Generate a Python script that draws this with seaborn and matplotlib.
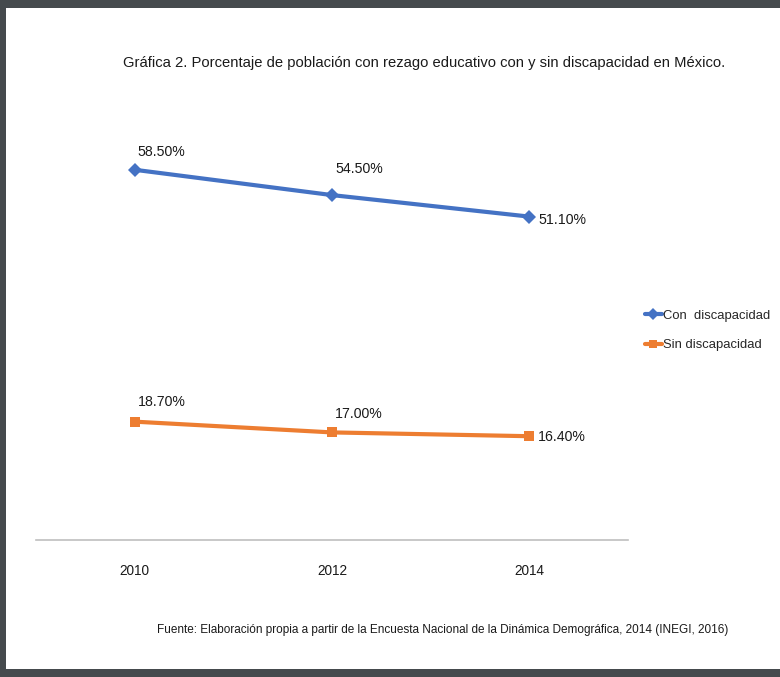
import matplotlib
matplotlib.use("Agg")
import matplotlib.pyplot as plt
import seaborn as sns
import pandas as pd
from matplotlib.patches import Rectangle
from matplotlib.lines import Line2D

years = ["2010", "2012", "2014"]
con_discapacidad = [58.5, 54.5, 51.1]
sin_discapacidad = [18.7, 17.0, 16.4]
series_names = ["Con  discapacidad", "Sin discapacidad"]
colors = ["#4472C4", "#ED7D31"]

df = pd.DataFrame({
    "year": years * 2,
    "value": con_discapacidad + sin_discapacidad,
    "serie": [series_names[0]] * 3 + [series_names[1]] * 3,
})

sns.set_theme(style="white")
plt.rcParams["font.family"] = ["Liberation Sans", "DejaVu Sans"]

W, H = 780, 677
fig = plt.figure(figsize=(W / 100, H / 100), dpi=100)
fig.patch.set_facecolor("#454a4d")
fig.patches.append(Rectangle((6 / W, (H - 669) / H), (W - 6) / W, (669 - 8) / H,
                             transform=fig.transFigure, facecolor="white",
                             edgecolor="none", zorder=-5))

ax = fig.add_axes([36 / W, (H - 540) / H, 592 / W, (540 - 97) / H])
ax.set_zorder(2)
ax.set_facecolor("none")

sns.lineplot(data=df, x="year", y="value", hue="serie", style="serie",
             markers=["D", "s"], dashes=False, palette=colors, linewidth=3,
             markersize=7, markeredgewidth=0, ax=ax, legend=False, sort=False)

ax.set_xlim(-0.5, 2.5)
ax.set_ylim(0, 70)
ax.set_yticks([])
ax.set_xlabel("")
ax.set_ylabel("")
for s in ["top", "left", "right"]:
    ax.spines[s].set_visible(False)
ax.spines["bottom"].set_color("#BFBFBF")
ax.spines["bottom"].set_linewidth(1.2)
ax.tick_params(axis="x", length=0, pad=17, labelsize=9.8, colors="#1a1a1a")

offsets = [[(3, 18), (3, 26), (9, -3)], [(3, 20), (3, 18), (9, -1)]]
for k, vals in enumerate((con_discapacidad, sin_discapacidad)):
    for i, v in enumerate(vals):
        dx, dy = offsets[k][i]
        ax.annotate(f"{v:.2f}%", (i, v), xytext=(dx, dy), textcoords="offset pixels",
                    ha="left", va="center", fontsize=10.2, color="#1a1a1a")

handles = [Line2D([], [], color=colors[0], lw=3, marker="D", markersize=6, markeredgewidth=0),
           Line2D([], [], color=colors[1], lw=3, marker="s", markersize=6, markeredgewidth=0)]
fig.legend(handles, series_names, loc="center left", bbox_to_anchor=(638 / W, 1 - 330.5 / H),
           frameon=False, fontsize=9.4, handlelength=1.3, handletextpad=0.15,
           labelspacing=1.3, borderpad=0)

fig.text(123 / W, 1 - 63 / H,
         "Gráfica 2. Porcentaje de población con rezago educativo con y sin discapacidad en México.",
         ha="left", va="center", fontsize=10.6, color="#1a1a1a")
fig.text(157 / W, 1 - 630 / H,
         "Fuente: Elaboración propia a partir de la Encuesta Nacional de la Dinámica Demográfica, 2014 (INEGI, 2016)",
         ha="left", va="center", fontsize=8.5, color="#1a1a1a")

fig.savefig("out.png", dpi=100, facecolor=fig.get_facecolor())
